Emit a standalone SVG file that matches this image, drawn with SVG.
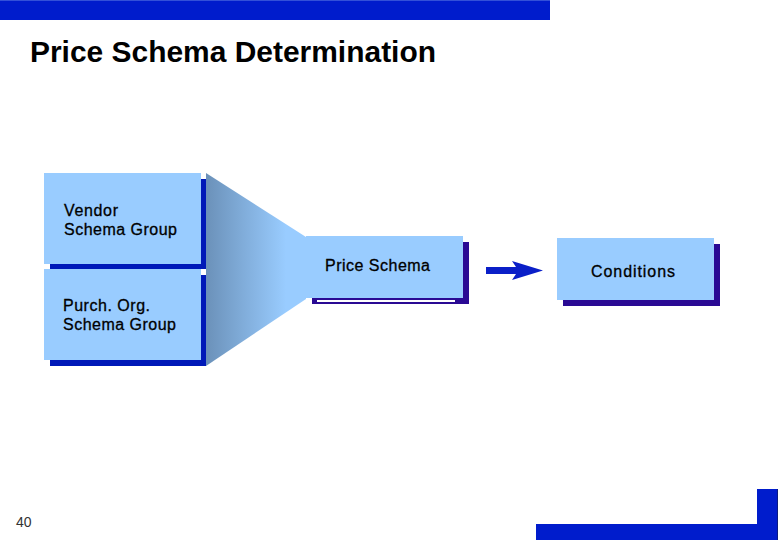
<svg xmlns="http://www.w3.org/2000/svg" width="780" height="540" viewBox="0 0 780 540">
<style>
.t{font-family:"Liberation Sans",Arial,sans-serif;fill:#000}
.l{font-size:16px;stroke:#000;stroke-width:0.3px}
.box{fill:#99ccff}
.sb{fill:#0019b8}
.sp{fill:#2a0a94}
.brand{fill:#001ccc}
</style>
<defs><linearGradient id="g" x1="0" x2="1" y1="0" y2="0"><stop offset="0" stop-color="#6b91b9"/><stop offset="0.8" stop-color="#99ccff"/></linearGradient></defs>
<rect width="780" height="540" fill="#fff"/>
<g id="frame">
<rect class="brand" x="0" y="0" width="550" height="20"/>
<rect x="0" y="0" width="550" height="1" fill="#3350d8"/>
<rect class="brand" x="536" y="524" width="241" height="16"/>
<rect class="brand" x="757" y="489" width="20" height="51"/>
<rect x="777" y="489" width="1" height="51" fill="#0a1a80"/>
</g>
<text id="title" class="t" x="30" y="62" font-size="29px" font-weight="bold" textLength="406" lengthAdjust="spacingAndGlyphs">Price Schema Determination</text>
<text id="page" x="16" y="527" font-size="14px" fill="#333" style="font-family:'Liberation Sans',Arial,sans-serif">40</text>
<g id="funnel"><polygon points="206,173 306,237 306,299 206,366" fill="url(#g)"/></g>
<g id="vendor">
<rect class="sb" x="50" y="179" width="156" height="90"/>
<rect class="box" x="44" y="173" width="157" height="91"/>
<text class="t l" x="64" y="215.5" textLength="54">Vendor</text>
<text class="t l" x="64" y="234.5" textLength="113">Schema Group</text>
</g>
<g id="purch">
<rect x="201" y="269" width="5" height="6" fill="#fff"/>
<rect class="sb" x="50" y="275" width="156" height="91"/>
<rect class="box" x="44" y="269" width="157" height="91"/>
<text class="t l" x="63" y="310.5" textLength="87">Purch. Org.</text>
<text class="t l" x="63" y="329.5" textLength="113">Schema Group</text>
</g>
<g id="price">
<rect class="sp" x="312" y="242" width="157" height="62"/>
<rect class="box" x="306" y="236" width="157" height="62"/>
<rect x="317" y="300" width="138" height="2" fill="#fff"/>
<text class="t l" x="325" y="270.5" textLength="105">Price Schema</text>
</g>
<g id="conditions">
<rect class="sp" x="563" y="244" width="157" height="62"/>
<rect class="box" x="557" y="238" width="157" height="62"/>
<text class="t l" x="591" y="276.5" textLength="84">Conditions</text>
</g>
<g id="connectors"><polygon points="486,267 516,267 512,261 543,270.5 512,280 516,274 486,274" fill="#0a1fc8"/></g>
</svg>
